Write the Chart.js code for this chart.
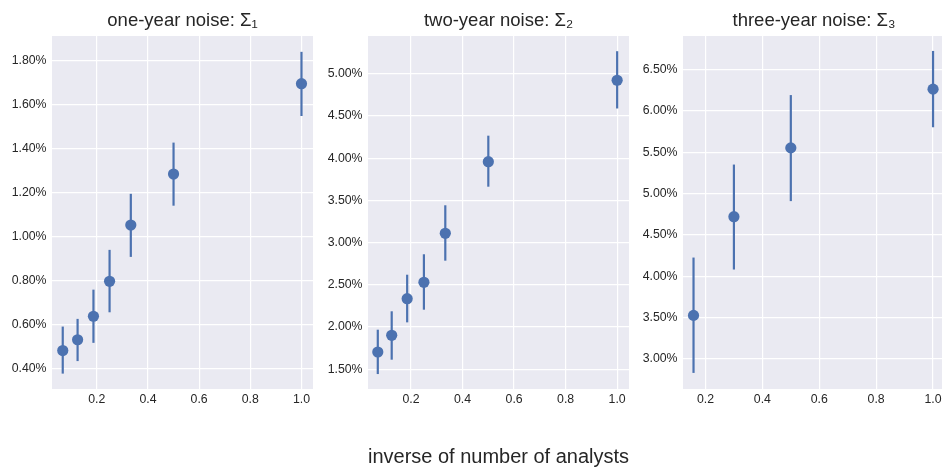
<!DOCTYPE html>
<html><head><meta charset="utf-8">
<script src="https://cdn.jsdelivr.net/npm/chart.js@4/dist/chart.umd.min.js"></script>
<style>
html,body{margin:0;padding:0;background:#fff;overflow:hidden;width:942px;height:468px}
#wrap{position:relative;width:942px;height:468px;overflow:hidden;background:#fff}
canvas{position:absolute;top:0}
</style></head><body>
<div id="wrap">
<canvas id="c1" width="313" height="468" style="left:0px"></canvas>
<canvas id="c2" width="313" height="468" style="left:316px"></canvas>
<canvas id="c3" width="314" height="468" style="left:631px"></canvas>
</div>
<script>
// ---- data (values in percent) ----
const invAnalystsOne = [0.067, 0.125, 0.187, 0.25, 0.333, 0.5, 1.0];
const noiseOne       = [0.480, 0.529, 0.636, 0.795, 1.051, 1.283, 1.694];
const noiseOneLow    = [0.375, 0.432, 0.515, 0.654, 0.906, 1.139, 1.547];
const noiseOneHigh   = [0.589, 0.624, 0.757, 0.938, 1.193, 1.426, 1.839];

const invAnalystsTwo = [0.071, 0.125, 0.185, 0.25, 0.333, 0.5, 1.0];
const noiseTwo       = [1.705, 1.903, 2.336, 2.530, 3.110, 3.958, 4.922];
const noiseTwoLow    = [1.444, 1.614, 2.056, 2.206, 2.786, 3.662, 4.588];
const noiseTwoHigh   = [1.969, 2.187, 2.620, 2.862, 3.442, 4.266, 5.266];

const invAnalystsThree = [0.158, 0.3, 0.5, 1.0];
const noiseThree       = [3.524, 4.720, 5.554, 6.266];
const noiseThreeLow    = [2.827, 4.080, 4.909, 5.804];
const noiseThreeHigh   = [4.225, 5.352, 6.194, 6.729];

const panelTitles = ['one-year noise: Σ₁', 'two-year noise: Σ₂', 'three-year noise: Σ₃'];
const xAxisLabel = 'inverse of number of analysts';

// ---- styling ----
const FONT = "'Liberation Sans', Arial, Helvetica, sans-serif";
const TEXT = '#262626';
const BLUE = '#4C72B0';

const bgPlugin = {
  id: 'bgPlugin',
  beforeDraw(chart) {
    const a = chart.chartArea, ctx = chart.ctx;
    ctx.save();
    ctx.fillStyle = '#EAEAF2';
    ctx.fillRect(a.left, a.top, a.right - a.left, a.bottom - a.top);
    ctx.restore();
  }
};
const errorBars = {
  id: 'errorBars',
  beforeDatasetsDraw(chart) {
    const ctx = chart.ctx, xs = chart.scales.x, ys = chart.scales.y;
    const ds = chart.data.datasets[0];
    ctx.save();
    ctx.strokeStyle = BLUE;
    ctx.lineWidth = 2.2;
    ds.data.forEach(p => {
      const px = xs.getPixelForValue(p.x);
      ctx.beginPath();
      ctx.moveTo(px, ys.getPixelForValue(p.lo));
      ctx.lineTo(px, ys.getPixelForValue(p.hi));
      ctx.stroke();
    });
    ctx.restore();
  }
};

function makePanel(id, xs, ys, lo, hi, title, xr, yr, ystep, showXLabel) {
  const pts = xs.map((x, i) => ({x: x, y: ys[i], lo: lo[i], hi: hi[i]}));
  return new Chart(document.getElementById(id), {
    type: 'scatter',
    data: { datasets: [{ data: pts, backgroundColor: BLUE, borderWidth: 0, pointRadius: 5.6, pointHoverRadius: 5.6, clip: false }] },
    options: {
      responsive: false, animation: false, devicePixelRatio: 1,
      layout: { padding: 0, autoPadding: false },
      plugins: {
        legend: { display: false }, tooltip: { enabled: false },
        title: {
          display: true, text: title, fullSize: false, color: TEXT,
          font: { family: FONT, size: 18.5, weight: 'normal', lineHeight: 1.2 },
          padding: { top: 9.5, bottom: 4.3 }
        }
      },
      scales: {
        x: {
          type: 'linear', min: xr[0], max: xr[1],
          grid: { color: '#ffffff', lineWidth: 1.2, drawTicks: false },
          border: { display: false },
          ticks: { stepSize: 0.2, includeBounds: false, maxRotation: 0, autoSkip: false, padding: 3,
                   color: TEXT, font: { family: FONT, size: 12.3 },
                   callback: v => v.toFixed(1) },
          title: { display: showXLabel, text: xAxisLabel, color: TEXT,
                   font: { family: FONT, size: 20, lineHeight: 1 }, padding: { top: 0, bottom: 0.6 } },
          afterFit: s => { s.height = 79; s.paddingLeft = 0; s.paddingRight = 0; s.paddingTop = 0; s.paddingBottom = 0; }
        },
        y: {
          type: 'linear', min: yr[0], max: yr[1],
          grid: { color: '#ffffff', lineWidth: 1.2, drawTicks: false },
          border: { display: false },
          ticks: { stepSize: ystep, includeBounds: false, autoSkip: false, padding: 5.5,
                   color: TEXT, font: { family: FONT, size: 12.3 },
                   callback: v => v.toFixed(2) + '%' },
          afterFit: s => { s.width = 52; s.paddingTop = 0; s.paddingBottom = 0; s.paddingLeft = 0; s.paddingRight = 0; }
        }
      }
    },
    plugins: [bgPlugin, errorBars]
  });
}

makePanel('c1', invAnalystsOne, noiseOne, noiseOneLow, noiseOneHigh, panelTitles[0], [0.025, 1.045], [0.305, 1.911], 0.2, false);
makePanel('c2', invAnalystsTwo, noiseTwo, noiseTwoLow, noiseTwoHigh, panelTitles[1], [0.033, 1.046], [1.267, 5.446], 0.5, true);
makePanel('c3', invAnalystsThree, noiseThree, noiseThreeLow, noiseThreeHigh, panelTitles[2], [0.121, 1.042], [2.632, 6.91], 0.5, false);
</script>
</body></html>
